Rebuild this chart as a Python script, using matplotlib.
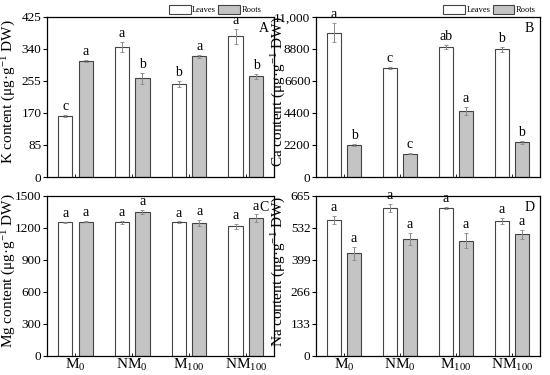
import matplotlib
matplotlib.use("Agg")
import numpy as np
import matplotlib.pyplot as plt
from matplotlib.ticker import FixedLocator, FuncFormatter

plt.rcParams['font.family'] = ['Liberation Serif', 'DejaVu Serif']
plt.rcParams['mathtext.fontset'] = 'custom'
plt.rcParams['mathtext.rm'] = 'Liberation Serif'
plt.rcParams['mathtext.it'] = 'Liberation Serif:italic'

treatments = ['M$_0$', 'NM$_0$', 'M$_{100}$', 'NM$_{100}$']

# K (panel A)
k_leaves = [162, 345, 247, 374]
k_leaves_err = [2, 13, 8, 20]
k_roots = [308, 262, 320, 267]
k_roots_err = [3, 14, 4, 6]
k_leaves_sig = ['c', 'a', 'b', 'a']
k_roots_sig = ['a', 'b', 'a', 'b']

# Ca (panel B)
ca_leaves = [9920, 7480, 8930, 8770]
ca_leaves_err = [640, 80, 120, 150]
ca_roots = [2210, 1610, 4530, 2390]
ca_roots_err = [60, 40, 250, 90]
ca_leaves_sig = ['a', 'c', 'ab', 'b']
ca_roots_sig = ['b', 'c', 'a', 'b']

# Mg (panel C)
mg_leaves = [1253, 1253, 1253, 1215]
mg_leaves_err = [4, 15, 6, 25]
mg_roots = [1258, 1347, 1243, 1290]
mg_roots_err = [5, 20, 30, 35]
mg_leaves_sig = ['a', 'a', 'a', 'a']
mg_roots_sig = ['a', 'a', 'a', 'a']

# Na (panel D)
na_leaves = [564, 614, 614, 561]
na_leaves_err = [16, 17, 3, 13]
na_roots = [426, 486, 479, 505]
na_roots_err = [26, 25, 30, 18]
na_leaves_sig = ['a', 'a', 'a', 'a']
na_roots_sig = ['a', 'a', 'a', 'a']

panels = [
    ('A', 'K', 425, [0, 85, 170, 255, 340, 425], k_leaves, k_leaves_err, k_roots, k_roots_err,
     k_leaves_sig, k_roots_sig),
    ('B', 'Ca', 11000, [0, 2200, 4400, 6600, 8800, 11000], ca_leaves, ca_leaves_err, ca_roots,
     ca_roots_err, ca_leaves_sig, ca_roots_sig),
    ('C', 'Mg', 1500, [0, 300, 600, 900, 1200, 1500], mg_leaves, mg_leaves_err, mg_roots,
     mg_roots_err, mg_leaves_sig, mg_roots_sig),
    ('D', 'Na', 665, [0, 133, 266, 399, 532, 665], na_leaves, na_leaves_err, na_roots,
     na_roots_err, na_leaves_sig, na_roots_sig),
]

positions = {
    'A': [0.0855, 0.528, 0.413, 0.427],
    'B': [0.5745, 0.528, 0.407, 0.427],
    'C': [0.0855, 0.051, 0.413, 0.427],
    'D': [0.5745, 0.051, 0.407, 0.427],
}

fig = plt.figure(figsize=(5.5, 3.75), dpi=100)
x = np.arange(len(treatments))
width = 0.25
offset = 0.18
edge = '#444444'

for tag, elem, ymax, yticks, lv, lv_err, rt, rt_err, lv_sig, rt_sig in panels:
    ax = fig.add_axes(positions[tag])
    err_kw = dict(ecolor='#888888', elinewidth=0.7, capsize=1.5, capthick=0.6)
    ax.bar(x - offset, lv, width, yerr=lv_err, color='white', edgecolor=edge,
           linewidth=0.8, error_kw=err_kw, label='Leaves')
    ax.bar(x + offset, rt, width, yerr=rt_err, color='#c4c4c4', edgecolor=edge,
           linewidth=0.8, error_kw=err_kw, label='Roots')
    pad = ymax * 0.012
    for i in range(len(x)):
        ax.text(x[i] - offset, lv[i] + lv_err[i] + pad, lv_sig[i], ha='center', va='bottom',
                fontsize=10)
        ax.text(x[i] + offset, rt[i] + rt_err[i] + pad, rt_sig[i], ha='center', va='bottom',
                fontsize=10)
    ax.set_xlim(-0.5, 3.5)
    ax.set_ylim(0, ymax)
    ax.yaxis.set_major_locator(FixedLocator(yticks))
    if tag == 'B':
        ax.yaxis.set_major_formatter(FuncFormatter(lambda v, p: f"{int(v):,}" if v >= 10000 else f"{int(v)}"))
    ax.set_xticks(x)
    if tag in ('C', 'D'):
        ax.set_xticklabels(treatments, fontsize=11)
    else:
        ax.set_xticklabels([])
    ax.tick_params(axis='x', direction='in', length=2.5, width=0.6, pad=1)
    ax.tick_params(axis='y', direction='out', length=3, width=0.8, labelsize=9.5, pad=1)
    for s in ax.spines.values():
        s.set_linewidth(0.9)
    ax.set_ylabel(elem + ' content (μg·g$^{-1}$ DW)', fontsize=11)
    if tag in ('A', 'C'):
        ax.yaxis.set_label_coords(-0.128, 0.53)
    else:
        ax.yaxis.set_label_coords(-0.125, 0.53)
    ax.text(0.975, 0.97, tag, transform=ax.transAxes, ha='right', va='top', fontsize=10)
    if tag in ('A', 'B'):
        cx = 0.74 if tag == 'A' else 0.775
        ax.legend(loc='center', bbox_to_anchor=(cx, 1.045), ncol=2, frameon=False,
                  fontsize=6, handlelength=2.6, handleheight=1.2, columnspacing=0.3,
                  handletextpad=0.15, borderpad=0)

fig.savefig('out.png', dpi=100)
